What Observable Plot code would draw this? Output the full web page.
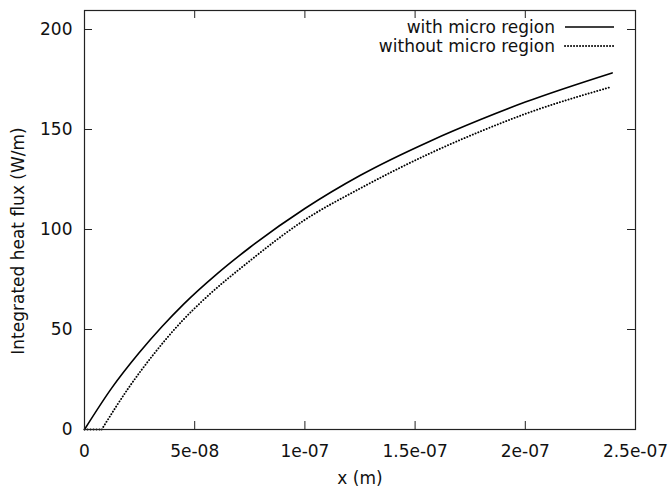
<!DOCTYPE html>
<html>
<head>
<meta charset="utf-8">
<script src="https://cdn.jsdelivr.net/npm/d3@7"></script>
<script src="https://cdn.jsdelivr.net/npm/@observablehq/plot@0.6"></script>
<style>
  html, body { margin: 0; padding: 0; background: #fff; }
  #wrap { position: relative; width: 672px; height: 492px; }
  #legend { position: absolute; left: 0; top: 0; pointer-events: none; }
</style>
</head>
<body>
<div id="wrap"></div>
<script>
// ---- data (x in metres, y in W/m) ----
const seriesNames = ["with micro region", "without micro region"];
const xWith = [0, 1.24e-8, 2.46e-8, 3.53e-8, 4.5e-8, 6.0e-8, 7.5e-8, 1.0e-7, 1.25e-7, 1.57e-7, 1.8e-7, 2.0e-7, 2.394e-7];
const yWith = [0, 20.8, 38.1, 51.6, 62.7, 77.7, 91.0, 110.5, 127.0, 144.3, 155.1, 163.7, 178.3];
const xWithout = [0, 0.78e-8, 2.0e-8, 3.15e-8, 4.45e-8, 5.37e-8, 7.5e-8, 9.95e-8, 1.25e-7, 1.57e-7, 1.8e-7, 2.0e-7, 2.387e-7];
const yWithout = [0, 0, 20.8, 37.8, 54.5, 64.5, 84.3, 104.5, 120.5, 138.2, 149.2, 157.8, 171.2];
const xTicks = [0, 5e-8, 1e-7, 1.5e-7, 2e-7, 2.5e-7];
const xTickLabels = ["0", "5e-08", "1e-07", "1.5e-07", "2e-07", "2.5e-07"];
const yTicks = [0, 50, 100, 150, 200];
const xLabel = "x (m)";
const yLabel = "Integrated heat flux (W/m)";

// ---- layout ----
const W = 672, H = 492;
const mL = 84, mR = 37, mT = 10, mB = 63;
const xDomain = [0, 2.5e-7];
const yDomain = [0, 209.5];
const tickPx = 8;
const tickX = tickPx / (W - mL - mR) * (xDomain[1] - xDomain[0]);
const tickY = tickPx / (H - mT - mB) * (yDomain[1] - yDomain[0]);

const withData = xWith.map((x, i) => ({x, y: yWith[i]}));
const withoutData = xWithout.map((x, i) => ({x, y: yWithout[i]}));
const startIdx = yWithout.findIndex(v => v > 0) - 1;
const withoutFlat = withoutData.slice(0, startIdx + 1);
const withoutRise = withoutData.slice(startIdx);

const font = "'DejaVu Sans', sans-serif";
const fs = 17;

const chart = Plot.plot({
  width: W, height: H,
  marginLeft: mL, marginRight: mR, marginTop: mT, marginBottom: mB,
  style: {fontFamily: font, fontSize: fs + "px", background: "#fff", color: "#111"},
  x: {domain: xDomain, label: null},
  y: {domain: yDomain, label: null},
  marks: [
    Plot.ruleX(xTicks, {x: d => d, y1: yDomain[0], y2: yDomain[0] + tickY, stroke: "#222", strokeWidth: 1}),
    Plot.ruleX(xTicks, {x: d => d, y1: yDomain[1] - tickY, y2: yDomain[1], stroke: "#222", strokeWidth: 1}),
    Plot.ruleY(yTicks, {y: d => d, x1: xDomain[0], x2: xDomain[0] + tickX, stroke: "#222", strokeWidth: 1}),
    Plot.ruleY(yTicks, {y: d => d, x1: xDomain[1] - tickX, x2: xDomain[1], stroke: "#222", strokeWidth: 1}),
    Plot.axisX(xTicks, {tickSize: 0, tickPadding: 15, tickFormat: (d) => xTickLabels[xTicks.indexOf(d)], label: null, fontSize: fs, fill: "#111"}),
    Plot.axisY(yTicks, {tickSize: 0, tickPadding: 12, label: null, fontSize: fs, fill: "#111"}),
    Plot.line(withData, {x: "x", y: "y", stroke: "#000", strokeWidth: 1.6, curve: "monotone-x"}),
    Plot.line(withoutFlat, {x: "x", y: "y", stroke: "#000", strokeWidth: 1.9, strokeDasharray: "0.1,2.9", strokeLinecap: "round"}),
    Plot.line(withoutRise, {x: "x", y: "y", stroke: "#000", strokeWidth: 1.9, strokeDasharray: "0.1,2.9", strokeLinecap: "round", curve: "monotone-x"}),
    Plot.frame({stroke: "#222", strokeWidth: 1.2}),
    Plot.text([xLabel], {frameAnchor: "bottom", dy: 54, fontSize: fs, fill: "#111"}),
    Plot.text([yLabel], {frameAnchor: "left", textAnchor: "middle", dx: -66, dy: 21, rotate: -90, fontSize: fs, fill: "#111"})
  ]
});

const wrap = document.getElementById("wrap");
wrap.appendChild(chart);

// ---- legend (inside the plot, top right) ----
const legendTextRight = 555, lineX1 = 565, lineX2 = 614, rowY = [27, 46];
const svg = d3.select(wrap).append("svg")
  .attr("id", "legend").attr("width", W).attr("height", H);
seriesNames.forEach((name, i) => {
  svg.append("text")
    .attr("x", legendTextRight).attr("y", rowY[i]).attr("dy", "0.35em")
    .attr("text-anchor", "end")
    .style("font-family", font).style("font-size", fs + "px").attr("fill", "#111")
    .text(name);
  const ln = svg.append("line")
    .attr("x1", lineX1).attr("x2", lineX2).attr("y1", rowY[i]).attr("y2", rowY[i])
    .attr("stroke", "#000");
  if (i === 0) ln.attr("stroke-width", 1.6);
  else ln.attr("stroke-width", 1.9).attr("stroke-dasharray", "0.1,2.9").attr("stroke-linecap", "round");
});
</script>
</body>
</html>
